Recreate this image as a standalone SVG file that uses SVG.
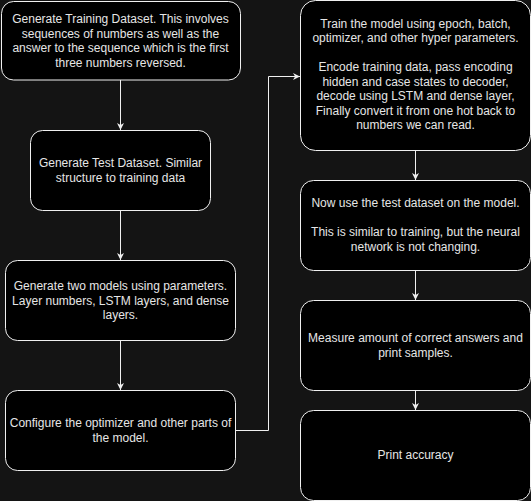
<svg xmlns="http://www.w3.org/2000/svg" width="531" height="501" viewBox="0 0 531 501">
<defs>
<style>
.box{fill:#000;stroke:#f0f0f0;stroke-width:1}
.t{font-family:"Liberation Sans",Arial,sans-serif;font-size:12px;fill:#e6e6e6;text-anchor:middle}
.c{fill:none;stroke:#f0f0f0;stroke-width:1}
</style>
<marker id="ah" viewBox="0 0 10 10" refX="10" refY="5" markerWidth="7" markerHeight="7" markerUnits="userSpaceOnUse" orient="auto">
<path d="M0,0 L10,5 L0,10 L3,5 Z" fill="#f0f0f0"/>
</marker>
</defs>
<rect x="0" y="0" width="531" height="501" fill="#141414"/>
<g id="connectors">
<path class="c" d="M120.5,80 V130" marker-end="url(#ah)"/>
<path class="c" d="M120.5,210 V260" marker-end="url(#ah)"/>
<path class="c" d="M120.5,340 V390" marker-end="url(#ah)"/>
<path class="c" d="M236,430.5 H268.5 V76.5 H300" marker-end="url(#ah)"/>
<path class="c" d="M415.5,150 V180" marker-end="url(#ah)"/>
<path class="c" d="M415.5,270 V300" marker-end="url(#ah)"/>
<path class="c" d="M415.5,390 V410" marker-end="url(#ah)"/>
</g>
<g id="n1">
<rect class="box" x="1.5" y="1.5" width="239" height="78.5" rx="12"/>
<text class="t" x="120.5" y="23">Generate Training Dataset. This involves</text>
<text class="t" x="120.5" y="37.5">sequences of numbers as well as the</text>
<text class="t" x="120.5" y="52">answer to the sequence which is the first</text>
<text class="t" x="120.5" y="66.5">three numbers reversed.</text>
</g>
<g id="n2">
<rect class="box" x="30.5" y="130.5" width="180" height="80" rx="12"/>
<text class="t" x="120.5" y="167">Generate Test Dataset. Similar</text>
<text class="t" x="120.5" y="182">structure to training data</text>
</g>
<g id="n3">
<rect class="box" x="5.5" y="260.5" width="230" height="80" rx="12"/>
<text class="t" x="120.5" y="290">Generate two models using parameters.</text>
<text class="t" x="120.5" y="304.5">Layer numbers, LSTM layers, and dense</text>
<text class="t" x="120.5" y="319">layers.</text>
</g>
<g id="n4">
<rect class="box" x="5.5" y="390.5" width="230" height="80" rx="12"/>
<text class="t" x="120.5" y="427">Configure the optimizer and other parts of</text>
<text class="t" x="120.5" y="442">the model.</text>
</g>
<g id="n5">
<rect class="box" x="300.5" y="0.5" width="230" height="150" rx="15"/>
<text class="t" x="415.5" y="27.5">Train the model using epoch, batch,</text>
<text class="t" x="415.5" y="42">optimizer, and other hyper parameters.</text>
<text class="t" x="415.5" y="71">Encode training data, pass encoding</text>
<text class="t" x="415.5" y="85.5">hidden and case states to decoder,</text>
<text class="t" x="415.5" y="100">decode using LSTM and dense layer,</text>
<text class="t" x="415.5" y="114.5">Finally convert it from one hot back to</text>
<text class="t" x="415.5" y="129">numbers we can read.</text>
</g>
<g id="n6">
<rect class="box" x="300.5" y="180.5" width="230" height="90" rx="13"/>
<text class="t" x="415.5" y="207">Now use the test dataset on the model.</text>
<text class="t" x="415.5" y="236">This is similar to training, but the neural</text>
<text class="t" x="415.5" y="250.5">network is not changing.</text>
</g>
<g id="n7">
<rect class="box" x="300.5" y="300.5" width="230" height="90" rx="13"/>
<text class="t" x="415.5" y="342">Measure amount of correct answers and</text>
<text class="t" x="415.5" y="357">print samples.</text>
</g>
<g id="n8">
<rect class="box" x="300.5" y="410.5" width="230" height="90" rx="13"/>
<text class="t" x="415.5" y="458.5">Print accuracy</text>
</g>
</svg>
